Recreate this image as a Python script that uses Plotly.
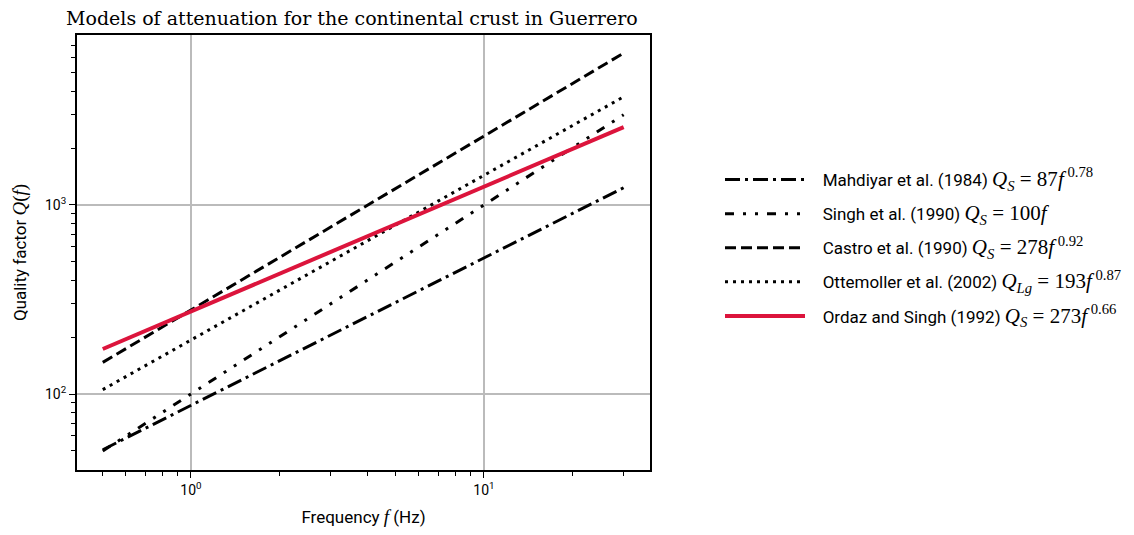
import plotly.graph_objects as go

# endpoints of each Q(f) model (straight lines in log-log)
freq = [0.5, 30]
q_mahdiyar = [50.7, 1234]
q_singh = [50, 3000]
q_castro = [147, 6355]
q_ottemoller = [105.5, 3735]
q_ordaz = [173, 2580]

names = [
    "Mahdiyar et al. (1984)",
    "Singh et al. (1990)",
    "Castro et al. (1990)",
    "Ottemoller et al. (2002)",
    "Ordaz and Singh (1992)",
]
formulas = [
    "<i>Q<sub>S</sub></i> = 87<i>f</i><sup> 0.78</sup>",
    "<i>Q<sub>S</sub></i> = 100<i>f</i>",
    "<i>Q<sub>S</sub></i> = 278<i>f</i><sup> 0.92</sup>",
    "<i>Q<sub>Lg</sub></i> = 193<i>f</i><sup> 0.87</sup>",
    "<i>Q<sub>S</sub></i> = 273<i>f</i><sup> 0.66</sup>",
]
series = [q_mahdiyar, q_singh, q_castro, q_ottemoller, q_ordaz]
styles = [
    dict(color="black", width=3, dash="15px,5px,3px,5px"),
    dict(color="black", width=3, dash="9px,9px,3px,9px,3px,9px"),
    dict(color="black", width=3, dash="11px,5px"),
    dict(color="black", width=3, dash="3px,5px"),
    dict(color="#dc143c", width=4),
]

x_ticks = [1, 10]
x_ticktext = ["10<sup>0</sup>", "10<sup>1</sup>"]
x_minor = [0.5, 0.6, 0.7, 0.8, 0.9, 2, 3, 4, 5, 6, 7, 8, 9, 20, 30]
y_ticks = [100, 1000]
y_ticktext = ["10<sup>2</sup>", "10<sup>3</sup>"]
y_minor = [50, 60, 70, 80, 90, 200, 300, 400, 500, 600, 700, 800, 900,
           2000, 3000, 4000, 5000, 6000, 7000]

serif = "Liberation Serif"


def math(s, size):
    return f'<span style="font-family:{serif};font-size:{size}px">{s}</span>'


fig = go.Figure()
for i, (name, formula, q, line) in enumerate(zip(names, formulas, series, styles)):
    fig.add_trace(
        go.Scatter(
            x=freq,
            y=q,
            mode="lines",
            line=line,
            legendgroup=f"g{i}",
            name=f"&nbsp;&nbsp;&nbsp;{name} {math(formula, 21)}",
        )
    )

axis_common = dict(
    type="log",
    tickmode="array",
    showline=True,
    linecolor="black",
    linewidth=2,
    mirror=True,
    ticks="outside",
    ticklen=6,
    tickwidth=1.2,
    tickcolor="black",
    showgrid=True,
    gridcolor="#bbbbbb",
    gridwidth=1.5,
    zeroline=False,
    automargin=False,
    tickfont=dict(size=14, color="black"),
)

W, H = 1118, 519
L, T, PW, PH = 69, 27, 573, 435

fig.update_layout(
    width=W,
    height=H,
    margin=dict(l=L, r=W - L - PW, t=T, b=H - T - PH),
    plot_bgcolor="white",
    paper_bgcolor="white",
    font=dict(family="Roboto", color="black", size=15),
    title=dict(
        text="Models of attenuation for the continental crust in Guerrero",
        x=58 / W,
        xanchor="left",
        y=1 - 4 / H,
        yanchor="top",
        font=dict(family="DejaVu Serif", size=19, color="black"),
    ),
    xaxis=dict(
        range=[-0.389, 1.567],
        tickvals=x_ticks,
        ticktext=x_ticktext,
        minor=dict(ticks="outside", ticklen=4, tickvals=x_minor, tickcolor="black", showgrid=False),
        title=dict(text="Frequency " + math("<i>f</i>", 19) + " (Hz)", font=dict(size=17), standoff=16),
        **axis_common,
    ),
    yaxis=dict(
        range=[1.598, 3.899],
        tickvals=y_ticks,
        ticktext=y_ticktext,
        minor=dict(ticks="outside", ticklen=4, tickvals=y_minor, tickcolor="black", showgrid=False),
        title=dict(text="Quality factor " + math("<i>Q</i>(<i>f</i>)", 19), font=dict(size=17), standoff=14),
        **axis_common,
    ),
    legend=dict(
        xref="container",
        yref="container",
        x=712 / W,
        y=1 - 154 / H,
        xanchor="left",
        yanchor="top",
        font=dict(size=17),
        itemwidth=80,
        tracegroupgap=9,
        bgcolor="rgba(0,0,0,0)",
    ),
    showlegend=True,
)

fig.write_html("out.html")
